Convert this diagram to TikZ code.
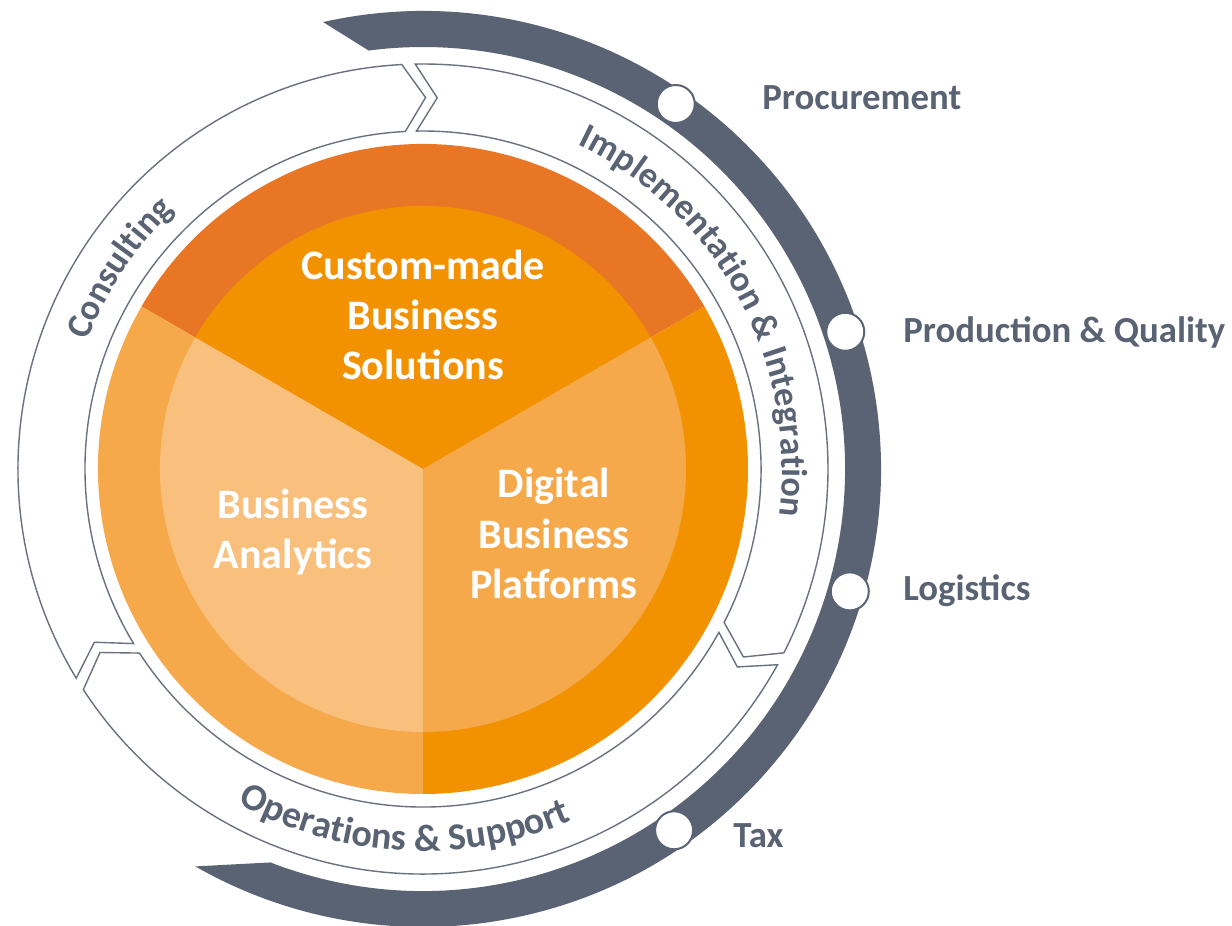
\documentclass[tikz,border=0pt]{standalone}
\usepackage{fontspec}
\setmainfont{Carlito}
\usetikzlibrary{decorations.text}
\definecolor{dkor}{RGB}{232,118,36}
\definecolor{mdor}{RGB}{243,146,0}
\definecolor{ltor}{RGB}{245,169,74}
\definecolor{llor}{RGB}{248,192,124}
\definecolor{slate}{RGB}{90,99,115}
\definecolor{ringline}{RGB}{105,112,126}
\newcommand\curvefont{\fontsize{18}{22}\selectfont\bfseries\color{slate}}
\newcommand\curvefontb{\fontsize{19}{23}\selectfont\bfseries\color{slate}}
\begin{document}
\begin{tikzpicture}[x=0.5pt,y=0.5pt,
  seg/.style={fill=white, draw=ringline, line width=0.7pt, line join=miter},
  marker/.style={circle, fill=white, draw=slate, line width=1pt, minimum size=19pt, inner sep=0pt},
  lbl/.style={anchor=base west, inner sep=0pt, text=slate, font=\fontsize{18.4}{22}\selectfont\bfseries},
  ctr/.style={anchor=base, inner sep=0pt, text=white, font=\fontsize{21}{25}\selectfont\bfseries}
]
\useasboundingbox (-423,-457) rectangle (809,469);

% dark outer arc
\fill[slate] (102.6:458) arc[start angle=102.6, end angle=-119.8, radius=458]
  -- (-111.2:422) arc[start angle=-111.2, end angle=97.4, radius=422] -- cycle;

% ring segments with chevrons
\path[seg] (211.1:405) arc[start angle=211.1, end angle=93, radius=405] -- (89.6:371.5)
  -- (93:338) arc[start angle=93, end angle=211.1, radius=338] -- (207.8:371.5) -- cycle;
\path[seg] (91.1:405) arc[start angle=91.1, end angle=-27, radius=405] -- (-30.4:371.5)
  -- (-27:338) arc[start angle=-27, end angle=91.1, radius=338] -- (87.8:371.5) -- cycle;
\path[seg] (-28.9:405) arc[start angle=-28.9, end angle=-147, radius=405] -- (-150.4:371.5)
  -- (-147:338) arc[start angle=-147, end angle=-28.9, radius=338] -- (-32.2:371.5) -- cycle;

% orange sectors
\fill[dkor] (0,0) -- (30:325) arc[start angle=30, end angle=150, radius=325] -- cycle;
\fill[mdor] (0,0) -- (-90:325) arc[start angle=-90, end angle=30, radius=325] -- cycle;
\fill[ltor] (0,0) -- (150:325) arc[start angle=150, end angle=270, radius=325] -- cycle;
\fill[mdor] (0,0) -- (30:263) arc[start angle=30, end angle=150, radius=263] -- cycle;
\fill[ltor] (0,0) -- (-90:263) arc[start angle=-90, end angle=30, radius=263] -- cycle;
\fill[llor] (0,0) -- (150:263) arc[start angle=150, end angle=270, radius=263] -- cycle;

% curved ring labels
\path[decorate, decoration={text along path, text align=center,
  text={|\curvefont|Consulting}}]
  (176.5:359) arc[start angle=176.5, end angle=116.5, radius=359];
\path[decorate, decoration={text along path, text align=center,
  text={|\curvefont|Implementation {\&} Integration}}]
  (73.5:359) arc[start angle=73.5, end angle=-16.5, radius=359];
\path[decorate, decoration={text along path, text align=center,
  text={|\curvefontb|Operations {\&} Support}}]
  (232:382) arc[start angle=232, end angle=302, radius=382];

% centre texts
\node[ctr] (cs1) at (0,189) {Custom-made};
\node[ctr] (cs2) at (0,139) {Business};
\node[ctr] (cs3) at (0,89) {Solutions};
\node[ctr] (ba1) at (-130,-49) {Business};
\node[ctr] (ba2) at (-130,-99) {Analytics};
\node[ctr] (dp1) at (131,-29) {Digital};
\node[ctr] (dp2) at (131,-79) {Business};
\node[ctr] (dp3) at (131,-129) {Platforms};

% markers on the dark arc
\node[marker] (m1) at (55.3:444) {};
\node[marker] (m2) at (18:444) {};
\node[marker] (m3) at (-16:444) {};
\node[marker] (m4) at (-55.2:440) {};

% labels
\node[lbl] (l1) at (339,359) {Procurement};
\node[lbl] (l2) at (480,126) {Production \& Quality};
\node[lbl] (l3) at (480,-132) {Logistics};
\node[lbl] (l4) at (310,-378) {Tax};
\end{tikzpicture}
\end{document}
